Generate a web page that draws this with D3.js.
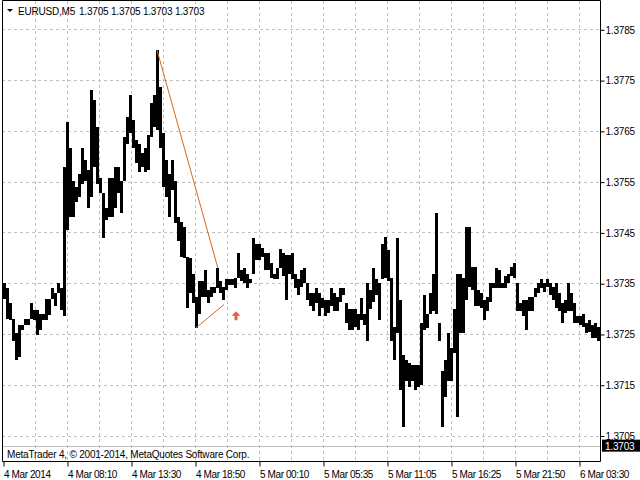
<!DOCTYPE html>
<html>
<head>
<meta charset="utf-8">
<script src="https://cdn.jsdelivr.net/npm/d3@7"></script>
<style>
  body { margin: 0; background: #fff; }
  svg text { font-family: "Liberation Sans", Arial, sans-serif; font-size: 10px; fill: #000; letter-spacing: -0.2px; }
</style>
</head>
<body>
<div id="chart"></div>
<script>
// EURUSD M5, each column = 3 bars (15 min), high / low
let barStep = 3;
let highs = [
  1.37350, 1.37340, 1.37310, 1.37279, 1.37251, 1.37267, 1.37267, 1.37279, 1.37279, 1.37310,
  1.37298, 1.37298, 1.37290, 1.37290, 1.37318, 1.37318, 1.37340, 1.37330, 1.37350, 1.37340,
  1.37578, 1.37667, 1.37617, 1.37552, 1.37539, 1.37566, 1.37617, 1.37592, 1.37572, 1.37730,
  1.37710, 1.37657, 1.37558, 1.37527, 1.37499, 1.37558, 1.37558, 1.37578, 1.37578, 1.37552,
  1.37637, 1.37677, 1.37720, 1.37671, 1.37631, 1.37625, 1.37606, 1.37617, 1.37641, 1.37704,
  1.37720, 1.37809, 1.37736, 1.37645, 1.37592, 1.37566, 1.37592, 1.37552, 1.37480, 1.37470,
  1.37460, 1.37401, 1.37399, 1.37369, 1.37322, 1.37355, 1.37355, 1.37375, 1.37336, 1.37342,
  1.37342, 1.37379, 1.37355, 1.37342, 1.37359, 1.37359, 1.37359, 1.37361, 1.37409, 1.37375,
  1.37379, 1.37369, 1.37359, 1.37438, 1.37428, 1.37428, 1.37420, 1.37409, 1.37409, 1.37389,
  1.37369, 1.37379, 1.37418, 1.37409, 1.37405, 1.37405, 1.37409, 1.37369, 1.37359, 1.37375,
  1.37379, 1.37350, 1.37330, 1.37330, 1.37340, 1.37330, 1.37320, 1.37316, 1.37316, 1.37340,
  1.37330, 1.37322, 1.37340, 1.37340, 1.37310, 1.37300, 1.37300, 1.37300, 1.37290, 1.37320,
  1.37290, 1.37351, 1.37336, 1.37379, 1.37359, 1.37350, 1.37428, 1.37440, 1.37415, 1.37361,
  1.37263, 1.37438, 1.37316, 1.37208, 1.37198, 1.37192, 1.37188, 1.37188, 1.37188, 1.37271,
  1.37326, 1.37290, 1.37330, 1.37369, 1.37489, 1.37271, 1.37178, 1.37198, 1.37251, 1.37223,
  1.37300, 1.37369, 1.37369, 1.37361, 1.37460, 1.37460, 1.37381, 1.37381, 1.37336, 1.37330,
  1.37316, 1.37322, 1.37350, 1.37350, 1.37379, 1.37375, 1.37350, 1.37365, 1.37369, 1.37381,
  1.37389, 1.37350, 1.37310, 1.37316, 1.37316, 1.37322, 1.37322, 1.37340, 1.37350, 1.37359,
  1.37351, 1.37359, 1.37350, 1.37342, 1.37350, 1.37330, 1.37310, 1.37316, 1.37350, 1.37330,
  1.37310, 1.37286, 1.37286, 1.37290, 1.37271, 1.37277, 1.37267, 1.37271, 1.37263
];
let lows = [
  1.37318, 1.37280, 1.37277, 1.37237, 1.37198, 1.37204, 1.37257, 1.37267, 1.37267, 1.37279,
  1.37277, 1.37247, 1.37257, 1.37277, 1.37277, 1.37288, 1.37318, 1.37306, 1.37330, 1.37298,
  1.37286, 1.37454, 1.37480, 1.37480, 1.37509, 1.37519, 1.37546, 1.37552, 1.37499, 1.37519,
  1.37578, 1.37546, 1.37527, 1.37438, 1.37474, 1.37480, 1.37480, 1.37499, 1.37527, 1.37489,
  1.37552, 1.37625, 1.37645, 1.37617, 1.37586, 1.37568, 1.37578, 1.37568, 1.37572, 1.37637,
  1.37657, 1.37651, 1.37617, 1.37539, 1.37519, 1.37480, 1.37533, 1.37468, 1.37434, 1.37401,
  1.37399, 1.37302, 1.37330, 1.37310, 1.37261, 1.37290, 1.37322, 1.37322, 1.37310, 1.37322,
  1.37330, 1.37340, 1.37330, 1.37316, 1.37336, 1.37346, 1.37346, 1.37340, 1.37361, 1.37355,
  1.37350, 1.37340, 1.37350, 1.37369, 1.37395, 1.37395, 1.37401, 1.37375, 1.37375, 1.37361,
  1.37359, 1.37359, 1.37379, 1.37365, 1.37316, 1.37369, 1.37359, 1.37340, 1.37326, 1.37342,
  1.37350, 1.37316, 1.37306, 1.37296, 1.37310, 1.37286, 1.37302, 1.37286, 1.37292, 1.37306,
  1.37296, 1.37296, 1.37312, 1.37326, 1.37271, 1.37257, 1.37257, 1.37263, 1.37257, 1.37277,
  1.37267, 1.37237, 1.37300, 1.37312, 1.37326, 1.37277, 1.37359, 1.37361, 1.37355, 1.37237,
  1.37198, 1.37251, 1.37139, 1.37066, 1.37158, 1.37145, 1.37158, 1.37139, 1.37145, 1.37149,
  1.37257, 1.37261, 1.37290, 1.37296, 1.37290, 1.37237, 1.37066, 1.37125, 1.37158, 1.37158,
  1.37212, 1.37086, 1.37251, 1.37251, 1.37316, 1.37342, 1.37336, 1.37306, 1.37306, 1.37302,
  1.37277, 1.37296, 1.37312, 1.37340, 1.37340, 1.37340, 1.37340, 1.37340, 1.37350, 1.37365,
  1.37361, 1.37296, 1.37296, 1.37286, 1.37257, 1.37296, 1.37296, 1.37322, 1.37330, 1.37340,
  1.37332, 1.37342, 1.37326, 1.37316, 1.37302, 1.37296, 1.37271, 1.37292, 1.37296, 1.37296,
  1.37271, 1.37271, 1.37267, 1.37263, 1.37251, 1.37253, 1.37243, 1.37243, 1.37237
];
let priceTicks = [1.3785, 1.3775, 1.3765, 1.3755, 1.3745, 1.3735, 1.3725, 1.3715, 1.3705];
let timeTickBars = [0, 64, 128, 192, 256, 320, 384, 448, 512, 576];
let timeLabels = ["4 Mar 2014", "4 Mar 08:10", "4 Mar 13:30", "4 Mar 18:50", "5 Mar 00:10",
  "5 Mar 05:35", "5 Mar 11:05", "5 Mar 16:25", "5 Mar 21:50", "6 Mar 03:30"];
let symbol = "EURUSD,M5";
let lastOHLC = [1.3705, 1.3705, 1.3703, 1.3703];
let bid = 1.3703;
// trend lines drawn on the chart: [bar, price]
let trendLines = [
  [[154, 1.37809], [215, 1.37379]],
  [[193, 1.37262], [221, 1.37308]]
];
let arrowBar = 233;
let arrowPrice = 1.37277;
let copyright = "MetaTrader 4, \u00a9 2001-2014, MetaQuotes Software Corp.";

let w = 640;
let h = 480;
let pLeft = 2, pTop = 1, pRight = 600, pBottom = 461;

let x = d3.scaleLinear().domain([0, 597]).range([3, 600]);
let y = d3.scaleLinear().domain([1.3705, 1.3785]).range([435.5, 29.3]);
let fmt = d3.format(".4f");

let svg = d3.select('#chart')
  .append('svg')
  .attr('width', w)
  .attr('height', h);

// grid
let grid = svg.append('g')
  .attr('stroke', '#c0c0c0')
  .attr('stroke-width', 1)
  .attr('stroke-dasharray', '3,3');

grid.selectAll('line.h')
  .data(priceTicks)
  .enter()
  .append('line')
  .attr('x1', pLeft)
  .attr('x2', pRight)
  .attr('y1', function(d) { return Math.round(y(d)) + 0.5; })
  .attr('y2', function(d) { return Math.round(y(d)) + 0.5; });

let vBars = d3.range(32, 597, 32);
grid.selectAll('line.v')
  .data(vBars)
  .enter()
  .append('line')
  .attr('x1', function(d) { return Math.round(x(d)) + 0.5; })
  .attr('x2', function(d) { return Math.round(x(d)) + 0.5; })
  .attr('y1', pTop)
  .attr('y2', pBottom);

// bid line
svg.append('line')
  .attr('x1', pLeft)
  .attr('x2', pRight)
  .attr('y1', Math.round(y(bid)) + 0.5)
  .attr('y2', Math.round(y(bid)) + 0.5)
  .attr('stroke', '#c0c0c0');

// bars
svg.append('g')
  .attr('shape-rendering', 'crispEdges')
  .selectAll('rect')
  .data(highs)
  .enter()
  .append('rect')
  .attr('x', function(d, i) { return x(i * barStep); })
  .attr('width', x(barStep) - x(0))
  .attr('y', function(d) { return Math.round(y(d)); })
  .attr('height', function(d, i) {
    return Math.max(1, Math.round(y(lows[i])) - Math.round(y(d)));
  })
  .attr('fill', '#000');

// trend lines
svg.selectAll('line.trend')
  .data(trendLines)
  .enter()
  .append('line')
  .attr('x1', function(d) { return x(d[0][0]); })
  .attr('y1', function(d) { return y(d[0][1]); })
  .attr('x2', function(d) { return x(d[1][0]); })
  .attr('y2', function(d) { return y(d[1][1]); })
  .attr('stroke', '#d2691e')
  .attr('stroke-width', 1);

// buy arrow
let ax = x(arrowBar), ay = y(arrowPrice);
svg.append('path')
  .attr('d', 'M' + ax + ',' + (ay - 9) + ' l-4.5,4.5 h3 v4.5 h3 v-4.5 h3 z')
  .attr('fill', '#e4643c');

// frame
svg.append('path')
  .attr('d', 'M' + (pLeft + 0.5) + ',' + (pBottom + 0.5) + ' V' + (pTop - 0.5) + ' H' + (pRight + 0.5) + ' V' + (pBottom + 0.5) + ' H' + (pLeft + 0.5))
  .attr('fill', 'none')
  .attr('stroke', '#000');

// price axis
let yAxis = d3.axisRight(y)
  .tickValues(priceTicks)
  .tickFormat(fmt)
  .tickSize(4)
  .tickPadding(1);
let ya = svg.append('g')
  .attr('transform', 'translate(' + (pRight + 0.5) + ',0.5)')
  .call(yAxis);
ya.select('.domain').remove();
ya.selectAll('text').style('font-size', '10px').style('font-family', '"Liberation Sans", Arial');

// time axis
let xAxis = d3.axisBottom(x)
  .tickValues(timeTickBars)
  .tickFormat(function(d, i) { return timeLabels[i]; })
  .tickSize(5)
  .tickPadding(4);
let xa = svg.append('g')
  .attr('transform', 'translate(0.5,' + (pBottom + 0.5) + ')')
  .call(xAxis);
xa.select('.domain').remove();
xa.selectAll('text')
  .attr('text-anchor', 'start')
  .style('font-size', '10px')
  .style('letter-spacing', '-0.4px')
  .style('font-family', '"Liberation Sans", Arial');

// current bid label
svg.append('rect')
  .attr('x', pRight + 2)
  .attr('y', y(bid) - 6)
  .attr('width', 38)
  .attr('height', 12)
  .attr('fill', '#000');
svg.append('text')
  .attr('x', pRight + 5)
  .attr('y', y(bid) + 4)
  .style('fill', '#fff')
  .text(fmt(bid));

// header
svg.append('path')
  .attr('d', 'M7,9 h6 l-3,3 z')
  .attr('fill', '#000');
svg.append('text')
  .attr('x', 18)
  .attr('y', 15)
  .text(symbol);
svg.append('text')
  .attr('x', 79)
  .attr('y', 15)
  .text(lastOHLC.map(fmt).join(' '));

// footer
svg.append('text')
  .attr('x', 7)
  .attr('y', 458)
  .text(copyright);
</script>
</body>
</html>
